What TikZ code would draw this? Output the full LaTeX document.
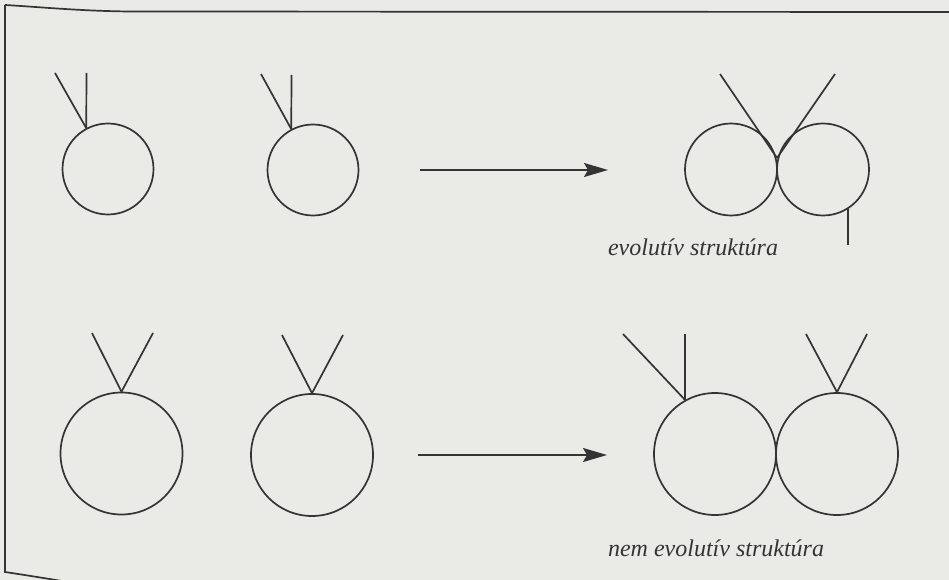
\documentclass[tikz,border=0pt]{standalone}
\usepackage{fontspec}
\setmainfont{Liberation Serif}
\usetikzlibrary{arrows.meta}
\definecolor{paper}{RGB}{234,234,231}
\definecolor{ink}{RGB}{52,52,52}
\tikzstyle{ball}=[circle, draw, inner sep=0pt]
\tikzstyle{caption}=[anchor=base, font=\fontsize{24}{28}\selectfont\itshape]

\begin{document}
\begin{tikzpicture}[x=1pt, y=-1pt, line width=1.7pt, ink, >={Stealth[length=24pt, width=14pt, inset=4pt]}]
% Page
    \fill[paper] (0,0) rectangle (949,580);
    \useasboundingbox (0,0) rectangle (949,580);
    \clip (0,0) rectangle (949,580);
    \draw (5,5) .. controls (40,7) and (80,11) .. (130,11.5) -- (949,12);
    \draw (5,5) -- (5,572) .. controls (25,575) and (50,579) .. (80,584);
% Top row
    \node[ball, minimum size=91] (a1) at (108,169) {};
    \node[ball, minimum size=91] (a2) at (313,170) {};
    \node[ball, minimum size=92] (e1) at (731,169.5) {};
    \node[ball, minimum size=92] (e2) at (823,169.5) {};
    \coordinate (a1v) at (86.5,73);
    \coordinate (a1d) at (55,73);
    \coordinate (a2v) at (291.5,75);
    \coordinate (a2d) at (261,74);
    \coordinate (ev) at (777,158);
    \coordinate (e1d) at (720,74);
    \coordinate (e2d) at (835,74);
    \coordinate (e2s) at (846,245);
    \draw (a1.118) -- (a1v);
    \draw (a1.118) -- (a1d);
    \draw (a2.118) -- (a2v);
    \draw (a2.118) -- (a2d);
    \draw (ev) -- (e1d);
    \draw (ev) -- (e2d);
    \draw (e2.-58) -- (e2.-58 |- e2s);
% Bottom row
    \node[ball, minimum size=122] (b1) at (121.5,453.5) {};
    \node[ball, minimum size=122] (b2) at (312,455) {};
    \node[ball, minimum size=122] (n1) at (715,454) {};
    \node[ball, minimum size=122] (n2) at (837,454) {};
    \coordinate (b1l) at (92,333);
    \coordinate (b1r) at (153,333);
    \coordinate (b2l) at (282,335);
    \coordinate (b2r) at (343,335);
    \coordinate (n1v) at (684,334);
    \coordinate (n1d) at (623,334);
    \coordinate (n2l) at (806,334);
    \coordinate (n2r) at (867,334);
    \draw (b1.90) -- (b1l);
    \draw (b1.90) -- (b1r);
    \draw (b2.90) -- (b2l);
    \draw (b2.90) -- (b2r);
    \draw (n1.119) -- (n1.119 |- n1v);
    \draw (n1.119) -- (n1d);
    \draw (n2.90) -- (n2l);
    \draw (n2.90) -- (n2r);
% Arrows
    \coordinate (t0) at (420,170);
    \coordinate (t1) at (608,170);
    \coordinate (u0) at (418,455);
    \coordinate (u1) at (607,455);
    \draw[->] (t0) -- (t1);
    \draw[->] (u0) -- (u1);
% Labels
    \node[caption] (evo) at (693,255) {evolutív struktúra};
    \node[caption] (nemevo) at (716,556) {nem evolutív struktúra};
\end{tikzpicture}
\end{document}
